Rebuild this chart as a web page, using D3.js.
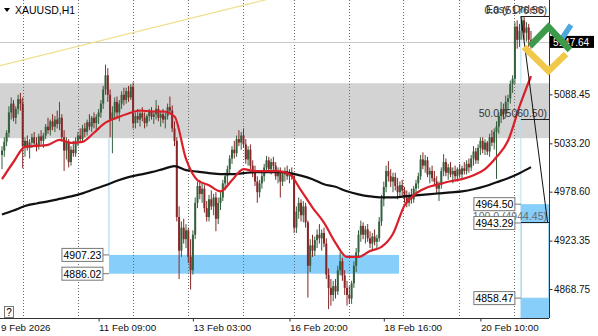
<!DOCTYPE html>
<html><head><meta charset="utf-8">
<script src="https://cdn.jsdelivr.net/npm/d3@7"></script>
<style>
html,body{margin:0;padding:0;background:#fff;}
svg{display:block;font-family:"Liberation Sans",Arial,sans-serif;}
</style></head>
<body>
<svg id="c" width="598" height="336"></svg>
<script>
// ---------- DATA ----------
const symbol = "XAUUSD,H1";
const opens = [5020,5025,5035,5045,5068, 5078,5062,5072,5083,5078, 5030,5036,5028,5034,5040,5033,5030,5041,5036,
 5042,5052,5048,5058,5052,5060,5055,5062,5040, 5025,5035,5012,5026, 5022,5036,5042,5038,5050,
 5046,5057,5052,5062,5056,5063, 5068,5078,5094,5110,5088,5060, 5068,5080,5068,5078,5088, 5082,5092,5085,5097,
 5056,5064,5060,5067,5062,5056,5064,5070,5063,5066,5072,5062,5066,5060,5064,5074, 5070,5050, 5036,4950,
 4912,4938,4925,4935,4905, 4890,4930, 4966,4985,4976, 4982,4960, 4950,4970,4962,4972, 4948,4966, 4972,4988,4996,
 5004,5016,5026,5022,5038,5034,5042, 5032,5015,5026,5008, 5000,4990,4978,4988, 4996,5006,5014,5004,5012,
 5008,4996,5002,4990, 4998,5002,4996,5000, 4996, 4938,4956,4966, 4952,4962, 4944, 4895,4918,4912,
 4924,4930,4926,4932, 4920,4885, 4870,4862,4872, 4866,4890,4900, 4884,4870,4862, 4858,4875,4895,
 4910,4930,4940,4930,4936, 4926,4920,4928,4922, 4926,4945,4970, 4984,5002, 4996,4990,4995,4985,4978,4986,
 4980,4972,4966,4975, 4970,4982,4988, 4996,5015,5008, 5014,4998,5002,4994, 4990,4982, 4986,5002,
 5012,5000,5006, 4998,5002,4996,5004,4998,5005, 5002,5010, 5006,5016,5024, 5014,5028,5036, 5026,5034,
 5024,5040, 5034,5046, 5052,5064,5072, 5066,5080, 5084,5100, 5106, 5165,5150,5160,5172,5158,5164,5150];
const highs = [5030,5040,5048,5075,5085, 5082,5075,5088,5090,5085, 5040,5042,5038,5044,5046,5040,5044,5048,5045,
 5055,5062,5060,5066,5064,5070,5080,5066,5048, 5040,5038,5030,5036, 5040,5046,5050,5054,5056,
 5060,5066,5064,5068,5066,5072, 5082,5098,5122,5118,5094,5075, 5085,5086,5082,5092,5096, 5096,5098,5100,5102,
 5068,5072,5070,5074,5068,5066,5072,5074,5070,5082,5076,5070,5072,5068,5078,5086, 5076,5058, 5040,4962,
 4945,4948,4942,4938,4925, 4935,4972, 4990,4992,4988, 4986,4968, 4975,4980,4976,4978, 4972,4978, 4992,5000,5008,
 5020,5030,5036,5042,5048,5046,5050, 5038,5030,5032,5014, 5008,4996,4992,5000, 5010,5019,5018,5016,5018,
 5012,5006,5006,5002, 5006,5008,5004,5006, 5000, 4962,4972,4970, 4968,4966, 4946, 4925,4930,4928,
 4936,4942,4936,4938, 4926,4892, 4880,4878,4880, 4895,4910,4904, 4890,4878,4872, 4878,4900,4915,
 4935,4946,4944,4940,4942, 4934,4932,4936,4930, 4950,4975,4990, 5008,5013, 5004,5000,5000,4994,4990,4992,
 4984,4980,4978,4982, 4985,4992,5000, 5020,5023,5020, 5018,5006,5008,5002, 4996,4990, 5006,5021,
 5016,5010,5012, 5006,5008,5006,5010,5008,5012, 5014,5016, 5020,5030,5028, 5032,5040,5040, 5038,5036,
 5044,5048, 5050,5058, 5068,5080,5078, 5087,5088, 5104,5110, 5170, 5172,5168,5176.56,5176,5170,5168,5160];
const lows = [5004,5018,5030,5040,5060, 5058,5055,5066,5070,5005, 5018,5025,5016,5028,5030,5024,5026,5032,5028,
 5038,5044,5042,5048,5046,5050,5048,5035,5002, 5015,5006,5008,5018, 5018,5030,5034,5035,5040,
 5042,5048,5046,5050,5048,5055, 5062,5072,5088,5080,5040,5022, 5060,5062,5058,5072,5076, 5078,5080,5082,5050,
 5050,5056,5052,5058,5050,5052,5058,5060,5055,5060,5058,5052,5056,5050,5060,5066, 5046,5030, 4945,4880,
 4905,4920,4915,4898,4868, 4885,4925, 4960,4970,4966, 4955,4945, 4945,4958,4952,4934, 4942,4958, 4968,4980,4985,
 4998,5010,5016,5018,5030,5026,5028, 5010,5008,5004,4995, 4985,4966,4972,4982, 4990,5000,5000,4998,5002,
 4992,4988,4972,4985, 4990,4992,4988,4992, 4932, 4932,4948,4945, 4944,4938, 4859, 4888,4905,4906,
 4915,4920,4912,4916, 4880,4846, 4850,4855,4858, 4862,4884,4878, 4862,4850,4852, 4852,4870,4888,
 4905,4922,4925,4920,4922, 4915,4912,4918,4914, 4922,4940,4962, 4978,4990, 4984,4978,4980,4970,4972,4974,
 4966,4961,4962,4965, 4966,4975,4982, 4992,5004,5000, 4995,4988,4990,4986, 4976,4968, 4982,4996,
 4996,4992,4995, 4988,4992,4990,4995,4992,4998, 4998,5000, 5002,5008,5010, 5010,5020,5022, 5020,5020,
 5018,5030, 5026,4993, 5044,5056,5060, 5062,5070, 5078,5090, 5100, 5140,5142,5150,5150,5148,5142,5140];
const closes = [5025,5035,5045,5068,5078, 5062,5072,5083,5078,5030, 5036,5028,5034,5040,5033,5030,5041,5036,5042,
 5052,5048,5058,5052,5060,5055,5062,5040,5025, 5035,5012,5026,5022, 5036,5042,5038,5050,5046,
 5057,5052,5062,5056,5063,5068, 5078,5094,5110,5088,5060,5068, 5080,5068,5078,5088,5082, 5092,5085,5097,5056,
 5064,5060,5067,5062,5056,5064,5070,5063,5066,5072,5062,5066,5060,5064,5074,5070, 5050,5036, 4950,4912,
 4938,4925,4935,4905,4890, 4930,4966, 4985,4976,4982, 4960,4950, 4970,4962,4972,4948, 4966,4972, 4988,4996,5004,
 5016,5026,5022,5038,5034,5042,5032, 5015,5026,5008,5000, 4990,4978,4988,4996, 5006,5014,5004,5012,5008,
 4996,5002,4990,4998, 5002,4996,5000,4996, 4938, 4956,4966,4952, 4962,4944, 4895, 4918,4912,4924,
 4930,4926,4932,4920, 4885,4870, 4862,4872,4866, 4890,4900,4884, 4870,4862,4858, 4875,4895,4910,
 4930,4940,4930,4936,4926, 4920,4928,4922,4926, 4945,4970,4984, 5002,4996, 4990,4995,4985,4978,4986,4980,
 4972,4966,4975,4970, 4982,4988,4996, 5015,5008,5014, 4998,5002,4994,4990, 4982,4986, 5002,5012,
 5000,5006,4998, 5002,4996,5004,4998,5005,5002, 5010,5006, 5016,5024,5014, 5028,5036,5026, 5034,5024,
 5040,5034, 5046,5052, 5064,5072,5066, 5080,5084, 5100,5106, 5165, 5150,5160,5172,5158,5164,5150,5147.64];

// moving averages sampled every 5 bars (bar 0,5,10,...,230)
const maStep = 5;
const maFast = [4992.7,5012.1,5029.2,5030.3,5031.4,5037.1,5033.7,5034.9,5045.1,5056.5,
 5062.2,5066.8,5070.2,5069.1,5069.1,5063.4,5015.5,4991.5,4985.8,4979.0,
 4991.5,5004.1,5001.8,5001.8,5001.8,4998.4,4980.1,4960.7,4943.6,4920.8,
 4904.9,4904.9,4911.7,4916.3,4931.1,4963.0,4976.7,4983.5,4987.0,4990.4,
 4992.7,4997.2,5004.1,5017.7,5036.0,5074.8,5109.0];
const maSlow = [4952.8,4957.3,4962.4,4965.3,4967.6,4970.4,4973.3,4976.7,4981.3,4985.8,
 4991.0,4995.0,4997.8,5000.6,5004.1,5007.5,5002.9,5001.2,4999.5,4998.4,
 4998.4,4999.5,5000.6,5000.6,5000.6,4999.5,4996.7,4992.7,4987.0,4984.1,
 4979.0,4975.6,4973.3,4972.1,4972.1,4973.3,4974.4,4975.6,4976.7,4977.8,
 4979.0,4981.3,4984.7,4989.2,4993.8,4999.5,5006.3];

const priceTicks = [5088.45, 5033.20, 4978.60, 4923.35, 4868.75];
const timeLabels = ["9 Feb 2026","11 Feb 09:00","13 Feb 03:00","16 Feb 20:00","18 Feb 16:00","20 Feb 10:00"];
const timeLabelBars = [0, 42, 83, 125, 166, 208];
const daySeparatorBars = [9.3, 33.2, 57.1, 81, 104.9, 126.8, 150.7, 174.5, 198.6, 222.6];
const currentPrice = 5147.64;
const resistanceZone = [5101, 5039];
const leftZone = {fromBar: 46.5, toBar: 172.6, top: 4907.23, bottom: 4886.02};
const rightZoneFromBar = 225.6;
const rightZonePrices = [4964.50, 4943.29, 4858.47];
const fiboLevels = [["0.0", 5176.56], ["50.0", 5060.50], ["100.0", 4944.45]];
const fiboLine = [[225.6, 5176.56], [237.2, 4944.45]];
const trendLine = [[0, 5121.3], [120, 5198.6]];

// ---------- CHART ----------
const svg = d3.select("#c");
const W = 598, H = 336, PR = 549, PB = 318;
const x = d3.scaleLinear().domain([0, 230]).range([2, 531]);
const y = d3.scaleLinear().domain([4868.75, 5088.45]).range([289, 94.35]);

svg.append("rect").attr("width", W).attr("height", H).attr("fill", "#fff");
svg.append("defs").append("clipPath").attr("id", "plot")
  .append("rect").attr("x", 0).attr("y", 0).attr("width", PR).attr("height", PB);
const g = svg.append("g").attr("clip-path", "url(#plot)");

// resistance (gray) zone
g.append("rect").attr("x", 0).attr("width", PR)
  .attr("y", y(resistanceZone[0])).attr("height", y(resistanceZone[1]) - y(resistanceZone[0]))
  .attr("fill", "#d3d3d3");

// left blue zone
g.append("rect").attr("x", x(leftZone.fromBar)).attr("width", x(leftZone.toBar) - x(leftZone.fromBar))
  .attr("y", y(leftZone.top)).attr("height", y(leftZone.bottom) - y(leftZone.top))
  .attr("fill", "#87cefa");
g.append("line").attr("x1", x(leftZone.fromBar)).attr("x2", x(leftZone.fromBar))
  .attr("y1", y(resistanceZone[1])).attr("y2", y(leftZone.top))
  .attr("stroke", "#9ed3f3").attr("stroke-width", 1);

// right zones
const rx = x(rightZoneFromBar);
g.append("line").attr("x1", rx).attr("x2", rx).attr("y1", y(fiboLevels[0][1])).attr("y2", PB)
  .attr("stroke", "#b5def7").attr("stroke-width", 1);
g.append("rect").attr("x", rx).attr("width", PR - rx)
  .attr("y", y(rightZonePrices[0])).attr("height", y(rightZonePrices[1]) - y(rightZonePrices[0]))
  .attr("fill", "#87cefa");
g.append("rect").attr("x", rx + 0.5).attr("width", PR - rx - 1)
  .attr("y", y(rightZonePrices[1])).attr("height", y(rightZonePrices[2]) - y(rightZonePrices[1]))
  .attr("fill", "#fff").attr("stroke", "#a9d8f5");
g.append("rect").attr("x", rx).attr("width", PR - rx)
  .attr("y", y(rightZonePrices[2])).attr("height", PB - y(rightZonePrices[2]))
  .attr("fill", "#87cefa");

// day separators (dotted grid)
g.selectAll("line.grid").data(daySeparatorBars).join("line").attr("class", "grid")
  .attr("x1", d => Math.round(x(d)) + 0.5).attr("x2", d => Math.round(x(d)) + 0.5)
  .attr("y1", 0).attr("y2", PB)
  .attr("stroke", "#6b6b6b").attr("stroke-width", 1).attr("stroke-dasharray", "1,2");

// current price line
g.append("line").attr("x1", 0).attr("x2", PR)
  .attr("y1", Math.round(y(currentPrice)) + 0.5).attr("y2", Math.round(y(currentPrice)) + 0.5)
  .attr("stroke", "#c8c8c8").attr("stroke-width", 1);

// yellow trend line
const tSlope = (y(trendLine[1][1]) - y(trendLine[0][1])) / (x(trendLine[1][0]) - x(trendLine[0][0]));
g.append("line")
  .attr("x1", 0).attr("y1", y(trendLine[0][1]) - tSlope * x(trendLine[0][0]))
  .attr("x2", x(trendLine[1][0])).attr("y2", y(trendLine[1][1]))
  .attr("stroke", "#efe08e").attr("stroke-width", 1.2);

// candles
const bars = opens.map((o, i) => ({i, o, h: highs[i], l: lows[i], c: closes[i]}));
const bull = "#35603d", bear = "#862626";
const cg = g.append("g");
cg.selectAll("line.wick").data(bars).join("line").attr("class", "wick")
  .attr("x1", d => x(d.i)).attr("x2", d => x(d.i))
  .attr("y1", d => y(d.h)).attr("y2", d => y(d.l))
  .attr("stroke", d => d.c >= d.o ? bull : bear).attr("stroke-width", 1);
cg.selectAll("rect.body").data(bars).join("rect").attr("class", "body")
  .attr("x", d => x(d.i) - 1).attr("width", 2)
  .attr("y", d => y(Math.max(d.o, d.c)))
  .attr("height", d => Math.max(1, Math.abs(y(d.o) - y(d.c))))
  .attr("fill", d => d.c >= d.o ? bull : bear);

// moving averages
const maLine = d3.line().x((d, i) => x(i * maStep)).y(d => y(d)).curve(d3.curveMonotoneX);
g.append("path").attr("d", maLine(maSlow)).attr("fill", "none").attr("stroke", "#111").attr("stroke-width", 2.2);
g.append("path").attr("d", maLine(maFast)).attr("fill", "none").attr("stroke", "#d9202a").attr("stroke-width", 2.2);

// fibonacci
fiboLevels.forEach(([lbl, p], k) => {
  const yy = Math.round(y(p)) + 0.5;
  g.append("line").attr("x1", rx).attr("x2", PR).attr("y1", yy).attr("y2", yy)
    .attr("stroke", "#222").attr("stroke-width", 1);
  g.append("text").attr("x", PR - 2).attr("y", yy - 3).attr("text-anchor", "end")
    .attr("font-size", 10.5).attr("fill", k === 2 ? "#6a6a6a" : "#333")
    .text(`${lbl} (${p.toFixed(2)})`);
});
g.append("text").attr("x", 486).attr("y", y(fiboLevels[0][1]) - 3)
  .attr("font-size", 10.5).attr("fill", "#333").text("Easy Orders");
g.append("line")
  .attr("x1", x(fiboLine[0][0])).attr("y1", y(fiboLine[0][1]))
  .attr("x2", x(fiboLine[1][0])).attr("y2", y(fiboLine[1][1]))
  .attr("stroke", "#111").attr("stroke-width", 1);

// price label boxes
function priceBox(xRight, price, xTo) {
  const yy = y(price);
  svg.append("line").attr("x1", xRight).attr("x2", xTo).attr("y1", yy).attr("y2", yy)
    .attr("stroke", "#777").attr("stroke-width", 1);
  svg.append("rect").attr("x", xRight - 41).attr("y", yy - 6.5).attr("width", 41).attr("height", 13)
    .attr("fill", "#fff").attr("stroke", "#777").attr("stroke-width", 1);
  svg.append("text").attr("x", xRight - 20.5).attr("y", yy + 4).attr("text-anchor", "middle")
    .attr("font-size", 10.5).attr("fill", "#000").text(price.toFixed(2));
}
priceBox(x(leftZone.fromBar) - 6, leftZone.top, x(leftZone.fromBar));
priceBox(x(leftZone.fromBar) - 6, leftZone.bottom, x(leftZone.fromBar));
rightZonePrices.forEach(p => priceBox(rx - 6, p, rx));

// axes
svg.append("line").attr("x1", PR + 0.5).attr("x2", PR + 0.5).attr("y1", 0).attr("y2", PB)
  .attr("stroke", "#333");
svg.append("line").attr("x1", 0).attr("x2", PR).attr("y1", PB + 0.5).attr("y2", PB + 0.5)
  .attr("stroke", "#333");

const ay = svg.append("g").attr("transform", `translate(${PR + 0.5},0)`)
  .call(d3.axisRight(y).tickValues(priceTicks).tickFormat(d3.format(".2f")).tickSize(3).tickPadding(1.5));
ay.select(".domain").remove();
ay.selectAll("text").attr("font-size", 10).attr("fill", "#111").attr("font-family", "Liberation Sans, Arial, sans-serif");
ay.selectAll("line").attr("stroke", "#333");

const ax = svg.append("g").attr("transform", `translate(0,${PB + 0.5})`)
  .call(d3.axisBottom(x).tickValues(timeLabelBars).tickFormat((d, i) => timeLabels[i]).tickSize(3).tickPadding(2.5));
ax.select(".domain").remove();
ax.selectAll("text").attr("text-anchor", "start").attr("font-size", 9.8).attr("fill", "#111")
  .attr("font-family", "Liberation Sans, Arial, sans-serif");
ax.selectAll(".tick").filter((d, i) => i === 0).select("text").attr("dx", -1.5);
ax.selectAll(".tick").filter((d, i) => i === 0).select("line").remove();
ax.selectAll("line").attr("stroke", "#333");

// current price tag
const cy = y(currentPrice);
svg.append("rect").attr("x", PR + 1).attr("y", cy - 6).attr("width", 44).attr("height", 12).attr("fill", "#000");
svg.append("text").attr("x", PR + 4).attr("y", cy + 4).attr("font-size", 10).attr("fill", "#fff")
  .text(currentPrice.toFixed(2));

// logo
const logo = svg.append("g").attr("fill", "none").attr("stroke-linecap", "butt").attr("stroke-linejoin", "miter");
logo.append("path").attr("d", "M524,47 L548.5,71 L566,54").attr("stroke", "#f0c84a").attr("stroke-width", 6.5);
logo.append("path").attr("d", "M561,40 L571,25").attr("stroke", "#4ea8e0").attr("stroke-width", 5.5);
logo.append("path").attr("d", "M530,46 L548.5,27 L570,50").attr("stroke", "#3d9a4b").attr("stroke-width", 6.5);

// title
svg.append("path").attr("d", "M4,8 L10,8 L7,12 Z").attr("fill", "#000");
svg.append("text").attr("x", 15).attr("y", 13.5).attr("font-size", 10.5).attr("fill", "#000").text(symbol);

// help box
svg.append("rect").attr("x", 4.5).attr("y", 306.5).attr("width", 9).attr("height", 11)
  .attr("fill", "#fff").attr("stroke", "#777");
svg.append("text").attr("x", 9).attr("y", 315.5).attr("text-anchor", "middle").attr("font-size", 10).text("?");
</script>
</body></html>
